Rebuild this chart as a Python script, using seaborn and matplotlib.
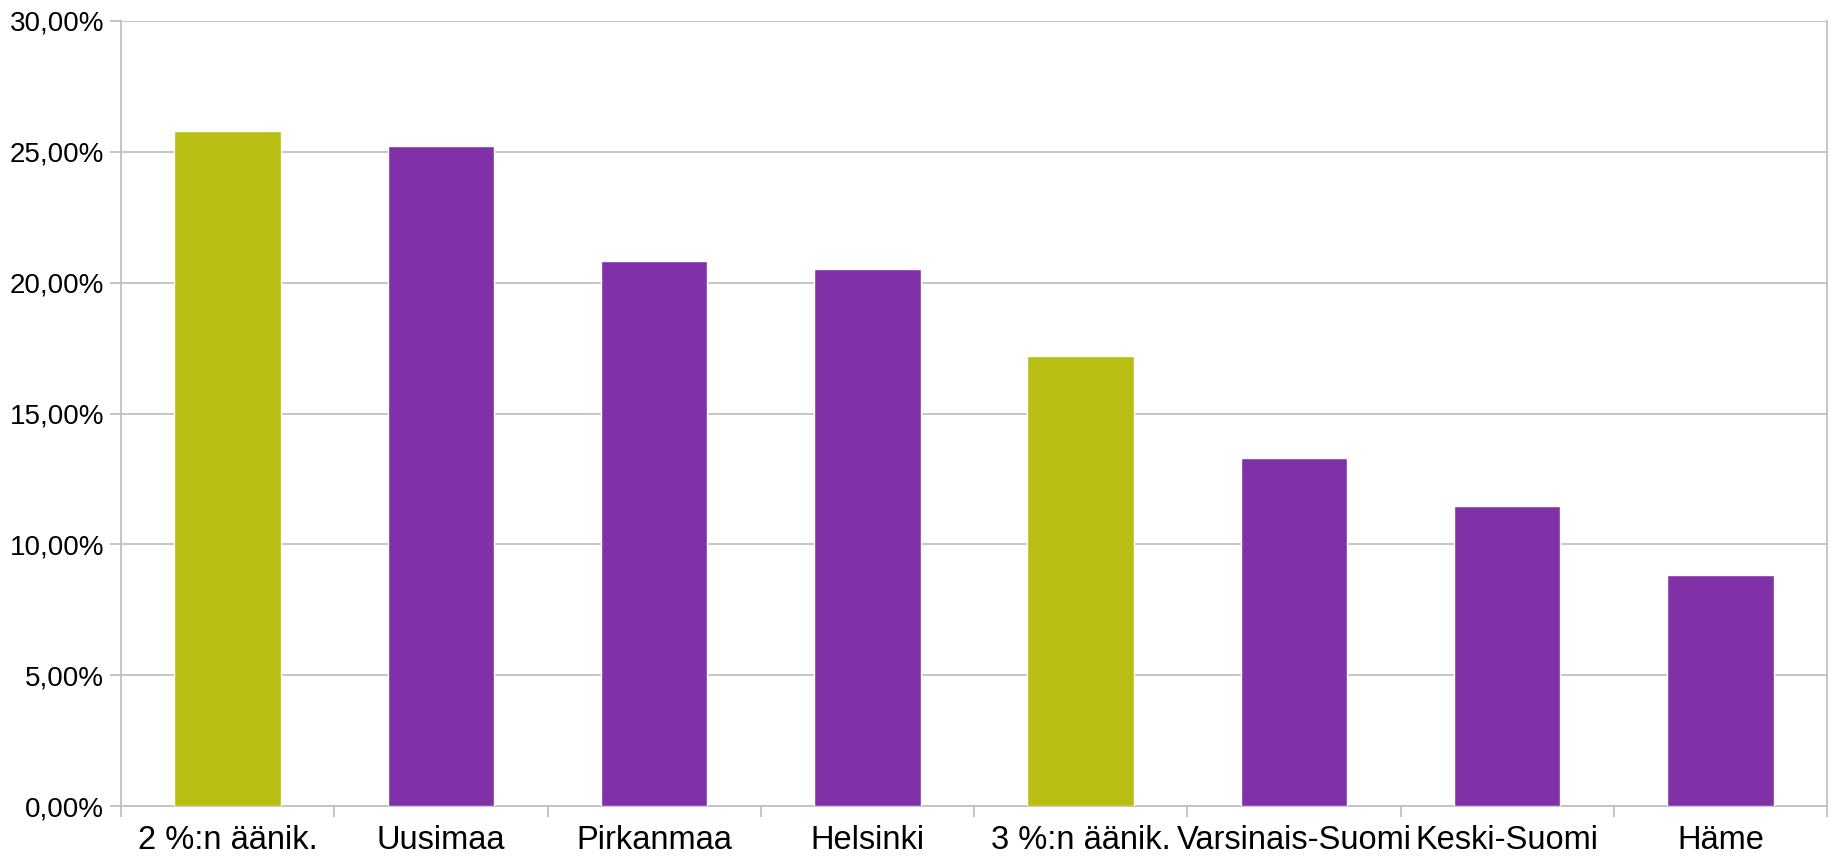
import numpy as np
import pandas as pd
import seaborn as sns
import matplotlib.pyplot as plt
from matplotlib.ticker import FuncFormatter, FixedLocator

# Data
categories = ['2 %:n äänik.', 'Uusimaa', 'Pirkanmaa', 'Helsinki',
              '3 %:n äänik.', 'Varsinais-Suomi', 'Keski-Suomi', 'Häme']
shares = [25.79, 25.22, 20.84, 20.53, 17.19, 13.29, 11.46, 8.82]
bar_colors = ['#B8BF12', '#8031A7', '#8031A7', '#8031A7',
              '#B8BF12', '#8031A7', '#8031A7', '#8031A7']

df = pd.DataFrame({'Alue': categories, 'Osuus': shares})

sns.set_style('white')
plt.rcParams['font.family'] = ['Liberation Sans', 'DejaVu Sans']

fig = plt.figure(figsize=(18.32, 8.61), dpi=100)
ax = fig.add_axes([121 / 1832, 1 - 806 / 861, (1827 - 121) / 1832, (806 - 21) / 861])

sns.barplot(data=df, x='Alue', y='Osuus', hue='Alue', palette=bar_colors,
            width=0.5, saturation=1, legend=False, ax=ax, zorder=3)

ax.set_xlim(-0.5, len(categories) - 0.5)
ax.set_ylim(0, 30)
ax.set_yticks(np.arange(0, 31, 5))
ax.yaxis.set_major_formatter(FuncFormatter(lambda v, p: f'{v:.2f}'.replace('.', ',') + '%'))
ax.grid(axis='y', color='#c0c0c0', linewidth=1.3, zorder=0)
ax.set_axisbelow(True)

# ticks between categories on the x axis
ax.xaxis.set_minor_locator(FixedLocator(np.arange(-0.5, len(categories), 1)))
ax.tick_params(axis='x', which='major', length=0, labelsize=23.5, pad=14, labelcolor='black')
ax.tick_params(axis='x', which='minor', length=8, width=1.3, color='#c0c0c0', direction='out', bottom=True)
ax.tick_params(axis='y', length=8, width=1.3, color='#c0c0c0', labelsize=20, pad=4, left=True,
               labelcolor='black')

for side in ['left', 'bottom', 'right']:
    ax.spines[side].set_color('#c0c0c0')
    ax.spines[side].set_linewidth(1.3)
ax.spines['top'].set_visible(False)

ax.set_xlabel('')
ax.set_ylabel('')

fig.savefig('out.png', dpi=100, facecolor='white')
